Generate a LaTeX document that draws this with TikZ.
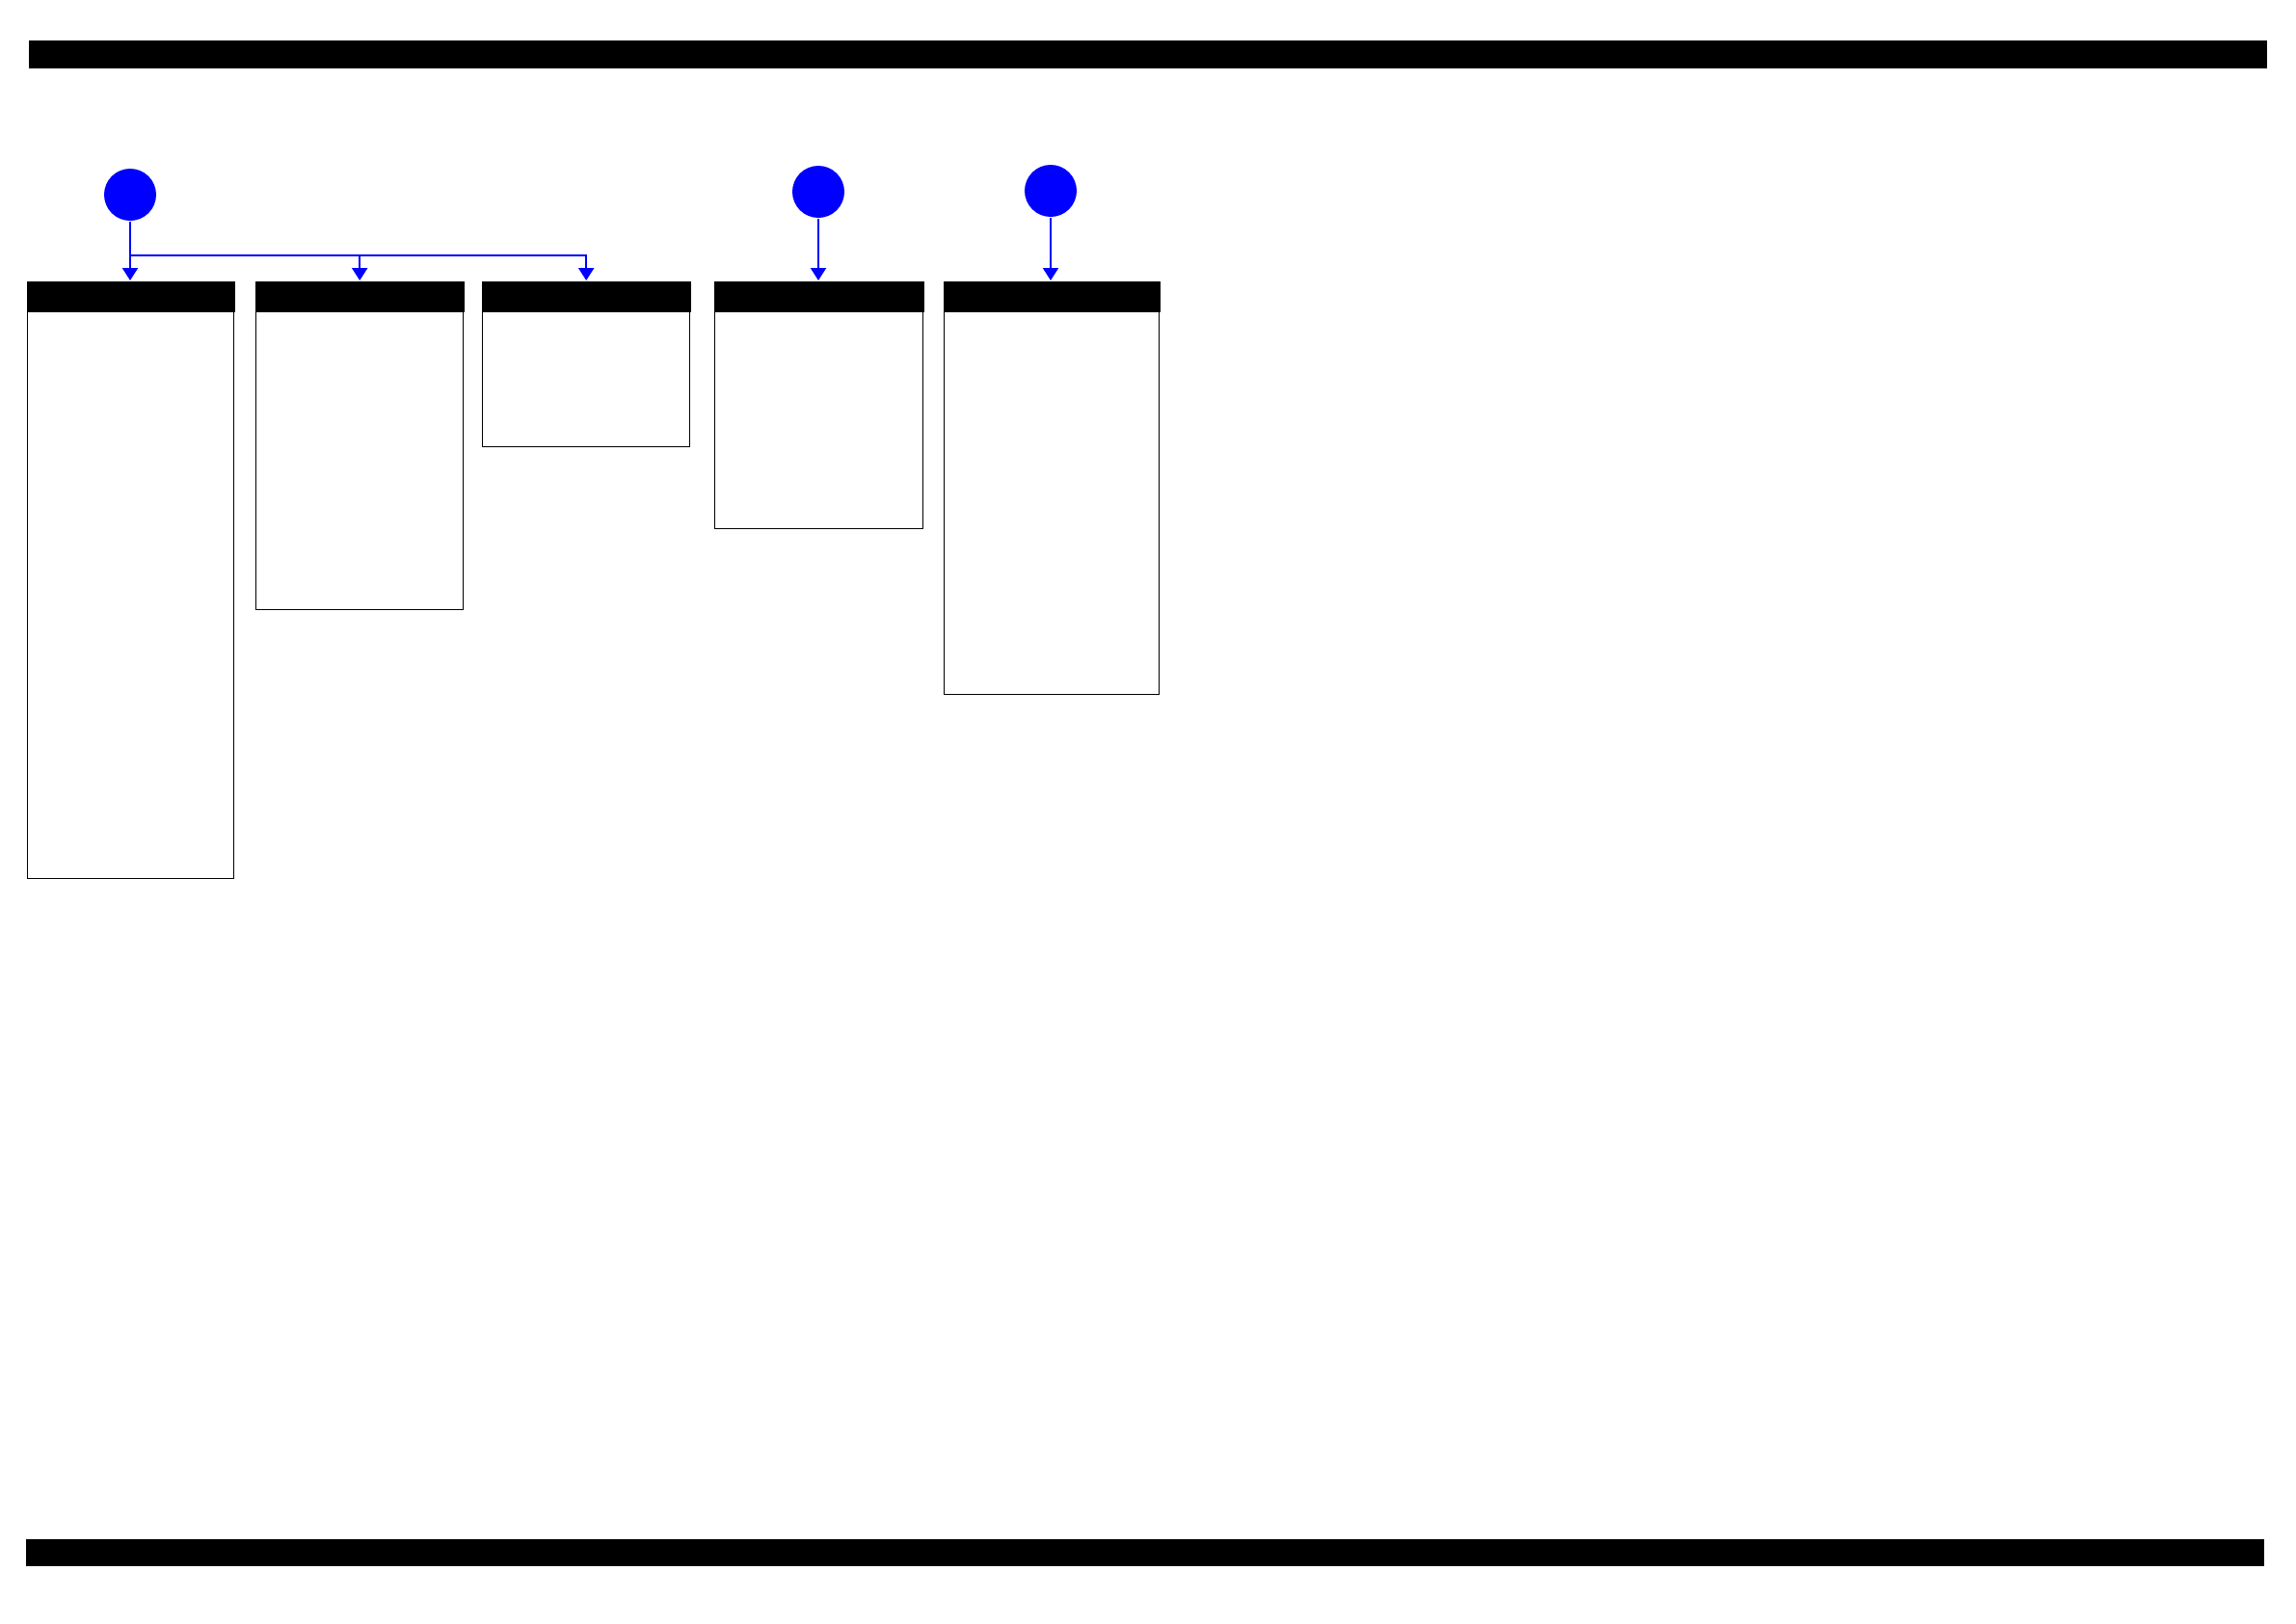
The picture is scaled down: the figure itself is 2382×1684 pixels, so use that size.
\documentclass[tikz,border=0pt]{standalone}
\usetikzlibrary{arrows.meta}
\begin{document}
\begin{tikzpicture}[x=0.1mm,y=-0.1mm,
 dot/.style={circle,fill=blue,inner sep=0pt,minimum size=5.4mm},
 head/.style={rectangle,fill=black,inner sep=0pt,minimum height=3.2mm,anchor=north west},
 body/.style={rectangle,draw=black,line width=0.4pt,inner sep=0pt,anchor=north west},
 conn/.style={draw=blue,line width=0.6pt,-{Triangle[width=1.6mm,length=1.3mm]}}]
\useasboundingbox (0,0) rectangle (2382,1684);
% top and bottom bars
\fill[black] (30,42) rectangle (2352,71);
\fill[black] (27,1597) rectangle (2349,1625);
% bodies
\node[body,minimum width=21.4mm,minimum height=58.9mm] (b1) at (28,322) {};
\node[body,minimum width=21.5mm,minimum height=31.0mm] (b2) at (265,322) {};
\node[body,minimum width=21.5mm,minimum height=14.1mm] (b3) at (500,322) {};
\node[body,minimum width=21.6mm,minimum height=22.6mm] (b4) at (741,322) {};
\node[body,minimum width=22.3mm,minimum height=39.8mm] (b5) at (979,322) {};
% headers
\node[head,minimum width=21.6mm] (h1) at (27,291) {};
\node[head,minimum width=21.7mm] (h2) at (264,291) {};
\node[head,minimum width=21.7mm] (h3) at (499,291) {};
\node[head,minimum width=21.8mm] (h4) at (740,291) {};
\node[head,minimum width=22.5mm] (h5) at (978,291) {};
% circles
\node[dot] (c1) at (135,202) {};
\node[dot] (c2) at (849,199) {};
\node[dot] (c3) at (1090,198) {};
\coordinate (j1) at (135,265);
% connectors
\draw[conn] (c1.south) -- (c1.south |- h1.north);
\draw[conn] (j1) -| (h2.north);
\draw[conn] (j1) -| (h3.north);
\draw[conn] (c2.south) -- (c2.south |- h4.north);
\draw[conn] (c3.south) -- (c3.south |- h5.north);
\end{tikzpicture}
\end{document}
